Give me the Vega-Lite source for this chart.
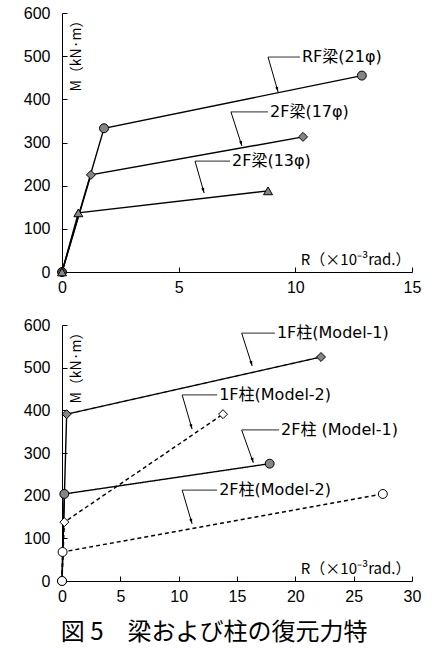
{
  "$schema": "https://vega.github.io/schema/vega-lite/v6.json",
  "background": "white",
  "padding": {"left": 23, "top": 5, "right": 10, "bottom": 0},
  "resolve": {"scale": {"shape": "independent", "fill": "independent", "strokeDash": "independent"}},
  "config": {
    "view": {"stroke": null},
    "concat": {"spacing": 22},
    "axis": {
      "grid": false,
      "domainColor": "black",
      "domainWidth": 1,
      "tickColor": "black",
      "tickSize": -5,
      "labelColor": "black",
      "labelFont": "Liberation Sans",
      "labelFontSize": 16,
      "labelFlush": false,
      "labelOverlap": false,
      "titleFont": "Noto Sans CJK JP",
      "titleFontWeight": "normal",
      "titleFontSize": 14,
      "titleColor": "black"
    }
  },
  "title": {
    "text": "図 5　梁および柱の復元力特",
    "orient": "bottom",
    "anchor": "middle",
    "font": "Noto Sans CJK JP",
    "fontSize": 24,
    "fontWeight": "normal",
    "color": "black",
    "baseline": "alphabetic",
    "offset": 36,
    "dx": -8
  },
  "datasets": {
    "beam": [
      {"series": "RF梁(21φ)", "R": 0, "M": 0},
      {"series": "RF梁(21φ)", "R": 1.8, "M": 333},
      {"series": "RF梁(21φ)", "R": 12.85, "M": 455},
      {"series": "2F梁(17φ)", "R": 0, "M": 0},
      {"series": "2F梁(17φ)", "R": 1.24, "M": 225},
      {"series": "2F梁(17φ)", "R": 10.33, "M": 313},
      {"series": "2F梁(13φ)", "R": 0, "M": 0},
      {"series": "2F梁(13φ)", "R": 0.7, "M": 137},
      {"series": "2F梁(13φ)", "R": 8.83, "M": 188}
    ],
    "beamNotes": [
      {"label": "RF梁(21φ)", "x0": 8.83, "y0": 498, "x1": 10.2, "xa": 9.26, "ya": 417},
      {"label": "2F梁(17φ)", "x0": 7.24, "y0": 371, "x1": 8.83, "xa": 7.71, "ya": 292},
      {"label": "2F梁(13φ)", "x0": 5.7, "y0": 257, "x1": 7.2, "xa": 6.09, "ya": 183}
    ],
    "col": [
      {"series": "1F柱(Model-1)", "model": "Model-1", "R": 0, "M": 0},
      {"series": "1F柱(Model-1)", "model": "Model-1", "R": 0.4, "M": 391},
      {"series": "1F柱(Model-1)", "model": "Model-1", "R": 22.2, "M": 525},
      {"series": "2F柱(Model-1)", "model": "Model-1", "R": 0, "M": 0},
      {"series": "2F柱(Model-1)", "model": "Model-1", "R": 0.2, "M": 204},
      {"series": "2F柱(Model-1)", "model": "Model-1", "R": 17.8, "M": 275},
      {"series": "1F柱(Model-2)", "model": "Model-2", "R": 0, "M": 0},
      {"series": "1F柱(Model-2)", "model": "Model-2", "R": 0.2, "M": 138},
      {"series": "1F柱(Model-2)", "model": "Model-2", "R": 13.8, "M": 391},
      {"series": "2F柱(Model-2)", "model": "Model-2", "R": 0, "M": 0},
      {"series": "2F柱(Model-2)", "model": "Model-2", "R": 0.05, "M": 68},
      {"series": "2F柱(Model-2)", "model": "Model-2", "R": 27.5, "M": 204}
    ],
    "colNotes": [
      {"label": "1F柱(Model-1)", "x0": 15.4, "y0": 581, "x1": 18.25, "xa": 16.3, "ya": 504},
      {"label": "1F柱(Model-2)", "x0": 10.3, "y0": 436, "x1": 13.3, "xa": 11.15, "ya": 356},
      {"label": "2F柱 (Model-1)", "x0": 15.4, "y0": 354, "x1": 18.6, "xa": 16.4, "ya": 277},
      {"label": "2F柱(Model-2)", "x0": 10.3, "y0": 213, "x1": 13.3, "xa": 11.15, "ya": 134}
    ]
  },
  "vconcat": [
    {
      "width": 350,
      "height": 259,
      "layer": [
        {
          "data": {"name": "beam"},
          "mark": {"type": "line", "color": "black", "strokeWidth": 1.4},
          "encoding": {
            "x": {"field": "R", "type": "quantitative", "title": "R（×10⁻³rad.）",
              "scale": {"domain": [0, 15], "nice": false},
              "axis": {"values": [0, 5, 10, 15], "titleX": 348, "titleY": -8, "titleAlign": "right", "titleBaseline": "alphabetic", "titleAngle": 0, "titleFontSize": 15, "labelPadding": 12}},
            "y": {"field": "M", "type": "quantitative", "title": "M（kN·m）",
              "scale": {"domain": [0, 600], "nice": false},
              "axis": {"values": [0, 100, 200, 300, 400, 500, 600], "titleX": 14, "titleY": 0, "titleAngle": -90, "titleAlign": "right", "titleBaseline": "middle", "labelPadding": 17}},
            "detail": {"field": "series"}
          }
        },
        {
          "data": {"name": "beam"},
          "mark": {"type": "point", "filled": true, "opacity": 1, "stroke": "black", "strokeWidth": 1, "size": 80},
          "encoding": {
            "x": {"field": "R", "type": "quantitative", "title": "R（×10⁻³rad.）"},
            "y": {"field": "M", "type": "quantitative", "title": "M（kN·m）"},
            "shape": {"field": "series", "type": "nominal", "legend": null,
              "scale": {"domain": ["RF梁(21φ)", "2F梁(17φ)", "2F梁(13φ)"], "range": ["circle", "diamond", "triangle-up"]}},
            "fill": {"field": "series", "type": "nominal", "legend": null,
              "scale": {"domain": ["RF梁(21φ)", "2F梁(17φ)", "2F梁(13φ)"], "range": ["#858585", "#858585", "#858585"]}}
          }
        },
        {
          "data": {"name": "beamNotes"},
          "mark": {"type": "rule", "color": "#555555", "strokeWidth": 1.2},
          "encoding": {
            "x": {"field": "x0", "type": "quantitative", "title": "R（×10⁻³rad.）"},
            "x2": {"field": "x1"},
            "y": {"field": "y0", "type": "quantitative", "title": "M（kN·m）"}
          }
        },
        {
          "data": {"name": "beamNotes"},
          "mark": {"type": "rule", "color": "black", "strokeWidth": 1},
          "encoding": {
            "x": {"field": "x0", "type": "quantitative", "title": "R（×10⁻³rad.）"},
            "x2": {"field": "xa"},
            "y": {"field": "y0", "type": "quantitative", "title": "M（kN·m）"},
            "y2": {"field": "ya"}
          }
        },
        {
          "data": {"name": "beamNotes"},
          "mark": {"type": "point", "filled": true, "color": "black", "opacity": 1, "size": 25, "angle": 344, "shape": "M0,0L-0.6,-2L0.6,-2Z"},
          "encoding": {
            "x": {"field": "xa", "type": "quantitative", "title": "R（×10⁻³rad.）"},
            "y": {"field": "ya", "type": "quantitative", "title": "M（kN·m）"}
          }
        },
        {
          "data": {"name": "beamNotes"},
          "mark": {"type": "text", "align": "left", "baseline": "middle", "dx": 2, "font": "DejaVu Sans, Noto Sans CJK JP", "fontSize": 16, "color": "black"},
          "encoding": {
            "x": {"field": "x1", "type": "quantitative", "title": "R（×10⁻³rad.）"},
            "y": {"field": "y0", "type": "quantitative", "title": "M（kN·m）"},
            "text": {"field": "label"}
          }
        }
      ]
    },
    {
      "width": 350,
      "height": 256,
      "layer": [
        {
          "data": {"name": "col"},
          "mark": {"type": "line", "color": "black", "strokeWidth": 1.4},
          "encoding": {
            "x": {"field": "R", "type": "quantitative", "title": "R（×10⁻³rad.）",
              "scale": {"domain": [0, 30], "nice": false},
              "axis": {"values": [0, 5, 10, 15, 20, 25, 30], "titleX": 348, "titleY": -8, "titleAlign": "right", "titleBaseline": "alphabetic", "titleAngle": 0, "titleFontSize": 15, "labelPadding": 12}},
            "y": {"field": "M", "type": "quantitative", "title": "M（kN·m）",
              "scale": {"domain": [0, 600], "nice": false},
              "axis": {"values": [0, 100, 200, 300, 400, 500, 600], "titleX": 14, "titleY": 0, "titleAngle": -90, "titleAlign": "right", "titleBaseline": "middle", "labelPadding": 17}},
            "detail": {"field": "series"},
            "strokeDash": {"field": "model", "type": "nominal", "legend": null,
              "scale": {"domain": ["Model-1", "Model-2"], "range": [[1, 0], [4, 3]]}}
          }
        },
        {
          "data": {"name": "col"},
          "mark": {"type": "point", "filled": true, "opacity": 1, "stroke": "black", "strokeWidth": 1, "size": 80},
          "encoding": {
            "x": {"field": "R", "type": "quantitative", "title": "R（×10⁻³rad.）"},
            "y": {"field": "M", "type": "quantitative", "title": "M（kN·m）"},
            "shape": {"field": "series", "type": "nominal", "legend": null,
              "scale": {"domain": ["1F柱(Model-1)", "2F柱(Model-1)", "1F柱(Model-2)", "2F柱(Model-2)"], "range": ["diamond", "circle", "diamond", "circle"]}},
            "fill": {"field": "series", "type": "nominal", "legend": null,
              "scale": {"domain": ["1F柱(Model-1)", "2F柱(Model-1)", "1F柱(Model-2)", "2F柱(Model-2)"], "range": ["#858585", "#858585", "white", "white"]}}
          }
        },
        {
          "data": {"name": "colNotes"},
          "mark": {"type": "rule", "color": "#555555", "strokeWidth": 1.2},
          "encoding": {
            "x": {"field": "x0", "type": "quantitative", "title": "R（×10⁻³rad.）"},
            "x2": {"field": "x1"},
            "y": {"field": "y0", "type": "quantitative", "title": "M（kN·m）"}
          }
        },
        {
          "data": {"name": "colNotes"},
          "mark": {"type": "rule", "color": "black", "strokeWidth": 1},
          "encoding": {
            "x": {"field": "x0", "type": "quantitative", "title": "R（×10⁻³rad.）"},
            "x2": {"field": "xa"},
            "y": {"field": "y0", "type": "quantitative", "title": "M（kN·m）"},
            "y2": {"field": "ya"}
          }
        },
        {
          "data": {"name": "colNotes"},
          "mark": {"type": "point", "filled": true, "color": "black", "opacity": 1, "size": 25, "angle": 344, "shape": "M0,0L-0.6,-2L0.6,-2Z"},
          "encoding": {
            "x": {"field": "xa", "type": "quantitative", "title": "R（×10⁻³rad.）"},
            "y": {"field": "ya", "type": "quantitative", "title": "M（kN·m）"}
          }
        },
        {
          "data": {"name": "colNotes"},
          "mark": {"type": "text", "align": "left", "baseline": "middle", "dx": 2, "font": "DejaVu Sans, Noto Sans CJK JP", "fontSize": 16, "color": "black"},
          "encoding": {
            "x": {"field": "x1", "type": "quantitative", "title": "R（×10⁻³rad.）"},
            "y": {"field": "y0", "type": "quantitative", "title": "M（kN·m）"},
            "text": {"field": "label"}
          }
        }
      ]
    }
  ]
}
